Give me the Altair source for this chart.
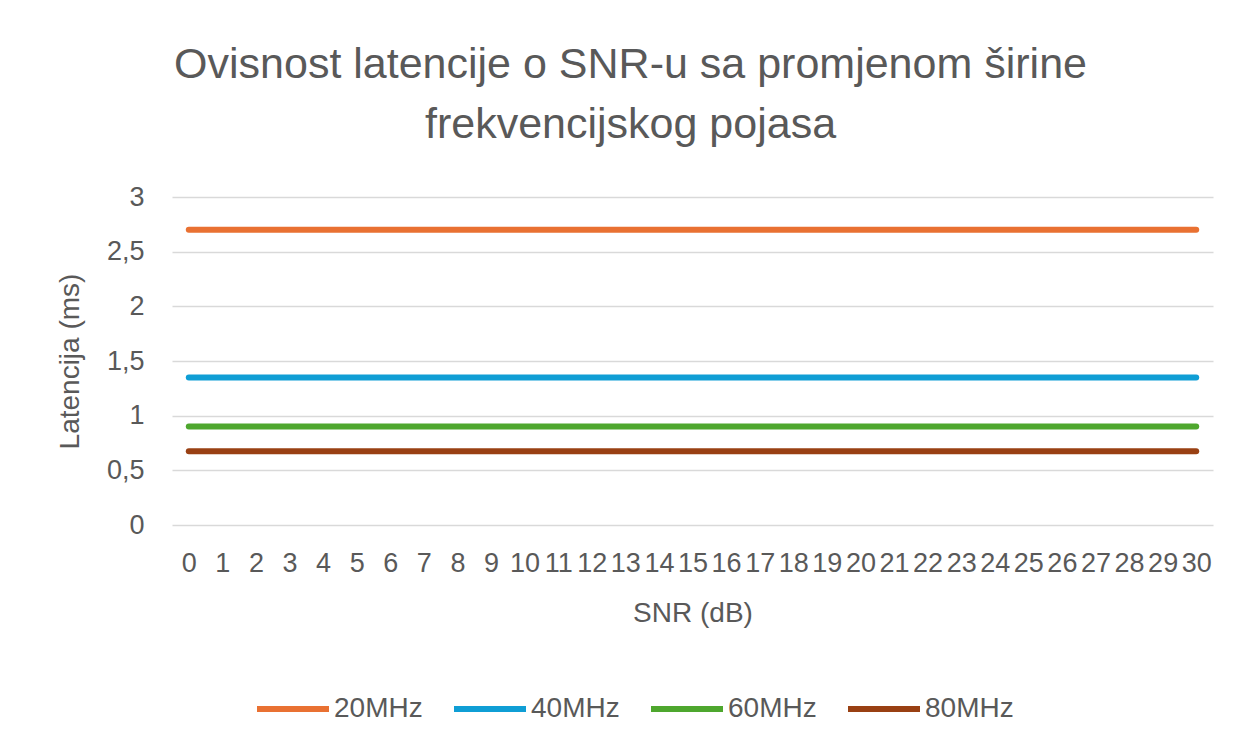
import altair as alt
import pandas as pd

snr = list(range(0, 31))
series_names = ["20MHz", "40MHz", "60MHz", "80MHz"]
lat_20 = [2.7, 2.7, 2.7, 2.7, 2.7, 2.7, 2.7, 2.7, 2.7, 2.7, 2.7, 2.7, 2.7, 2.7, 2.7, 2.7,
          2.7, 2.7, 2.7, 2.7, 2.7, 2.7, 2.7, 2.7, 2.7, 2.7, 2.7, 2.7, 2.7, 2.7, 2.7]
lat_40 = [1.35, 1.35, 1.35, 1.35, 1.35, 1.35, 1.35, 1.35, 1.35, 1.35, 1.35, 1.35, 1.35, 1.35, 1.35, 1.35,
          1.35, 1.35, 1.35, 1.35, 1.35, 1.35, 1.35, 1.35, 1.35, 1.35, 1.35, 1.35, 1.35, 1.35, 1.35]
lat_60 = [0.9, 0.9, 0.9, 0.9, 0.9, 0.9, 0.9, 0.9, 0.9, 0.9, 0.9, 0.9, 0.9, 0.9, 0.9, 0.9,
          0.9, 0.9, 0.9, 0.9, 0.9, 0.9, 0.9, 0.9, 0.9, 0.9, 0.9, 0.9, 0.9, 0.9, 0.9]
lat_80 = [0.675, 0.675, 0.675, 0.675, 0.675, 0.675, 0.675, 0.675, 0.675, 0.675, 0.675, 0.675, 0.675, 0.675, 0.675, 0.675,
          0.675, 0.675, 0.675, 0.675, 0.675, 0.675, 0.675, 0.675, 0.675, 0.675, 0.675, 0.675, 0.675, 0.675, 0.675]
colors = ["#E97132", "#0F9ED5", "#4EA72E", "#994013"]
y_ticks = [0, 0.5, 1, 1.5, 2, 2.5, 3]

rows = []
for name, vals in zip(series_names, [lat_20, lat_40, lat_60, lat_80]):
    for s, v in zip(snr, vals):
        rows.append({"SNR": s, "Latencija": v, "Serija": name})
df = pd.DataFrame(rows)

FONT = "Liberation Sans"
GRAY = "#595959"

chart = alt.Chart(df).mark_line(strokeWidth=6, strokeCap="round").encode(
    x=alt.X("SNR:O", title="SNR (dB)",
            scale=alt.Scale(type="point", padding=0.5),
            axis=alt.Axis(labelAngle=0, ticks=False, domain=False, grid=False,
                          labelFontSize=27, labelFont=FONT, labelColor=GRAY,
                          labelPadding=25, titleFontSize=28, titleFont=FONT,
                          titleColor=GRAY, titleFontWeight="normal", titlePadding=23)),
    y=alt.Y("Latencija:Q", title="Latencija (ms)",
            scale=alt.Scale(domain=[0, 3], nice=False),
            axis=alt.Axis(values=y_ticks, ticks=False, domain=False,
                          gridColor="#D9D9D9", gridWidth=1.5,
                          format="~g",
                          labelExpr="replace(datum.label, '.', ',')",
                          labelFontSize=27, labelFont=FONT, labelColor=GRAY,
                          labelPadding=28, titleFontSize=28, titleFont=FONT,
                          titleColor=GRAY, titleFontWeight="normal", titlePadding=22)),
    color=alt.Color("Serija:N", scale=alt.Scale(domain=series_names, range=colors),
                    legend=alt.Legend(title=None, orient="none", direction="horizontal",
                                      legendX=82, legendY=473,
                                      symbolType="stroke", symbolSize=5184,
                                      symbolStrokeWidth=6, labelFontSize=28,
                                      labelFont=FONT, labelColor=GRAY, labelOffset=2,
                                      columnPadding=19)),
).properties(
    width=1041,
    height=328,
    title=alt.TitleParams(
        text=["Ovisnost latencije o SNR-u sa promjenom širine", "frekvencijskog pojasa"],
        fontSize=43, font=FONT, color=GRAY, fontWeight="normal",
        anchor="middle", dx=-62, lineHeight=60, offset=36),
    autosize=alt.AutoSizeParams(type="none"),
    padding={"left": 164, "top": 189, "right": 29, "bottom": 200},
).configure_view(stroke=None)

chart.save("out.html", embed_options={"renderer": "svg", "actions": False})
